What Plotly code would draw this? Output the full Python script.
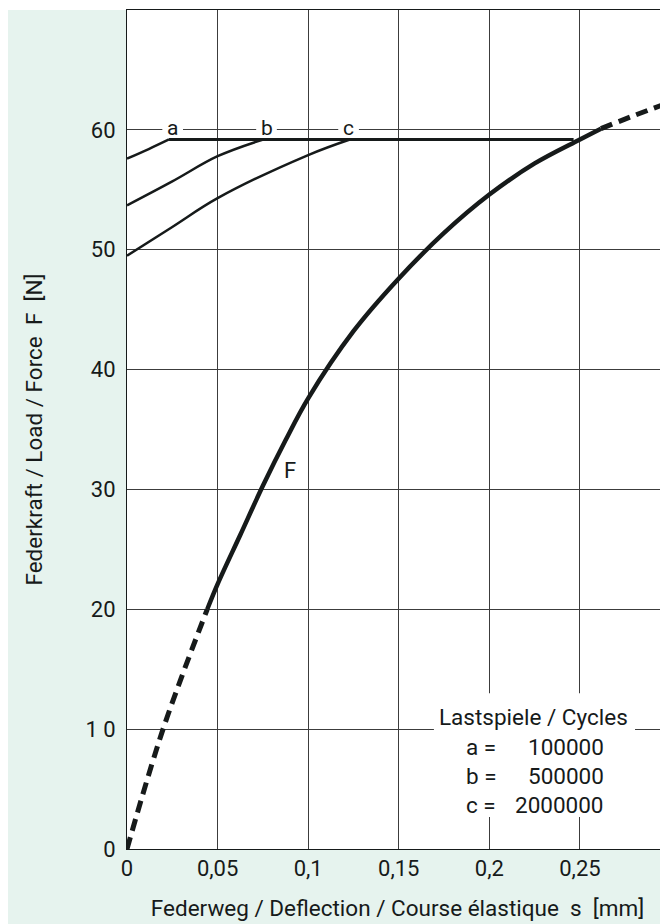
import plotly.graph_objects as go

# ---- data ----
f_start_x = [0.0, 0.0199, 0.0443]
f_start_y = [0.0, 10.0, 20.0]
f_main_x = [0.0443, 0.05, 0.0625, 0.075, 0.0875, 0.1, 0.125, 0.15, 0.175, 0.2, 0.225, 0.25, 0.2616]
f_main_y = [20.0, 22.1, 26.2, 30.3, 34.1, 37.6, 43.2, 47.6, 51.4, 54.6, 57.2, 59.2, 60.1]
f_end_x = [0.2616, 0.28, 0.2986]
f_end_y = [60.1, 61.2, 62.25]

a_x = [0.0, 0.012, 0.0232]
a_y = [57.6, 58.4, 59.2]
b_x = [0.0, 0.025, 0.05, 0.0752]
b_y = [53.7, 55.7, 57.8, 59.2]
c_x = [0.0, 0.025, 0.05, 0.1, 0.123]
c_y = [49.5, 51.9, 54.3, 57.9, 59.2]
limit_x = [0.0232, 0.2465]
limit_y = [59.2, 59.2]

curve_labels = ["a", "b", "c"]
curve_label_x = [0.0252, 0.077, 0.1223]
curve_label_y = 60

x_tickvals = [0, 0.05, 0.1, 0.15, 0.2, 0.25]
x_ticktext = ["0", "0,05", "0,1", "0,15", "0,2", "0,25"]
y_tickvals = [0, 10, 20, 30, 40, 50, 60]
y_ticktext = ["0", "1 0", "20", "30", "40", "50", "60"]

legend_title = "Lastspiele / Cycles"
legend_keys = ["a =", "b =", "c ="]
legend_vals = ["100000", "500000", "2000000"]

FONT = "Roboto, Liberation Sans, sans-serif"
INK = "#161a1a"
GREEN = "#e6f3ee"
GRID = "#3c3c3c"
NB = "\u00a0"

fig = go.Figure()


def add(x, y, width, dash="solid", shape="spline"):
    fig.add_trace(go.Scatter(x=x, y=y, mode="lines",
                             line=dict(color=INK, width=width, dash=dash, shape=shape),
                             hoverinfo="skip", showlegend=False))


add(a_x, a_y, 2.5)
add(b_x, b_y, 2.5)
add(c_x, c_y, 2.5)
add(limit_x, limit_y, 3, shape="linear")
add(f_start_x, f_start_y, 5, dash="12px,7px")
add(f_main_x, f_main_y, 4.5)
add(f_end_x, f_end_y, 5, dash="12px,7px")

# page has an 8px body margin: figure coords = reference coords - 8
OFF = 8
W, H = 668 - OFF, 924 - OFF
L, R, T, B = 127 - OFF, 668 - OFF, 10 - OFF, 849 - OFF


def px(xp):
    return (xp - L) / (R - L)


def py(yp):
    return (B - yp) / (B - T)


fig.add_shape(type="rect", xref="paper", yref="paper", x0=px(0), x1=px(L), y0=py(H), y1=py(T),
              fillcolor=GREEN, line_width=0, layer="below")
fig.add_shape(type="rect", xref="paper", yref="paper", x0=px(L), x1=px(W + 2), y0=py(H), y1=py(B),
              fillcolor=GREEN, line_width=0, layer="below")

# white box behind the cycles legend
fig.add_shape(type="rect", xref="x", yref="y", x0=0.1694, x1=0.2804, y0=2.67, y1=13.0,
              fillcolor="white", line_width=0, layer="between")

# gaps in the 60 gridline around the curve letters
for lx in curve_label_x:
    fig.add_shape(type="rect", xref="x", yref="y", x0=lx - 0.0057, x1=lx + 0.0057, y0=59.7, y1=60.3,
                  fillcolor="white", line_width=0, layer="between")
for lab, lx in zip(curve_labels, curve_label_x):
    fig.add_annotation(x=lx, y=curve_label_y, text=lab, showarrow=False,
                       font=dict(family=FONT, size=21, color=INK), yshift=2)

fig.add_annotation(x=0.09, y=31.6, text="F", showarrow=False, font=dict(family=FONT, size=22, color=INK))

fig.add_annotation(x=0.2245, y=11.0, text=legend_title, showarrow=False,
                   font=dict(family=FONT, size=22.5, color=INK))
key_y = [8.5, 6.1, 3.7]
for k, v, yy in zip(legend_keys, legend_vals, key_y):
    fig.add_annotation(x=0.1858, y=yy, text=k, showarrow=False, xanchor="left",
                       font=dict(family=FONT, size=22.5, color=INK))
    fig.add_annotation(x=0.2643, y=yy, text=v, showarrow=False, xanchor="right",
                       font=dict(family=FONT, size=22.5, color=INK))

fig.update_layout(
    width=W, height=H,
    margin=dict(l=L, r=W - R, t=T, b=H - B),
    paper_bgcolor="white", plot_bgcolor="white",
    font=dict(family=FONT, size=22, color=INK),
    xaxis=dict(range=[0, 0.2986], tickvals=x_tickvals, ticktext=x_ticktext,
               showgrid=True, gridcolor=GRID, gridwidth=1, zeroline=False,
               showline=True, linecolor=INK, linewidth=1, mirror=True, ticks="",
               title=dict(text=f"Federweg / Deflection / Course élastique{NB}{NB}s{NB}{NB}[mm]",
                          standoff=19, font=dict(size=22.5)),
               tickfont=dict(size=22)),
    yaxis=dict(range=[0, 70], tickvals=y_tickvals, ticktext=y_ticktext,
               showgrid=True, gridcolor=GRID, gridwidth=1, zeroline=False,
               showline=True, linecolor=INK, linewidth=1, ticks="", ticklabelstandoff=6,
               title=dict(text=f"Federkraft / Load / Force{NB}{NB}F{NB}{NB}[N]", standoff=36,
                          font=dict(size=22.5)),
               tickfont=dict(size=22)),
)

fig.write_html("out.html")
